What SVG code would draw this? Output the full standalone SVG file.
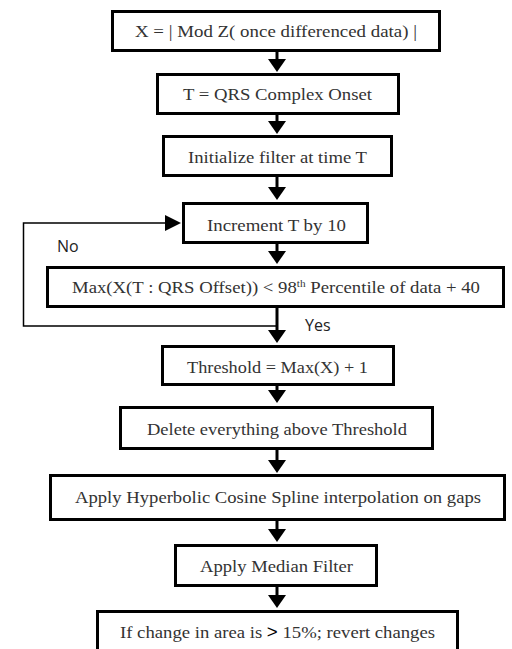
<svg xmlns="http://www.w3.org/2000/svg" width="512" height="649" viewBox="0 0 512 649">
<style>
.box{fill:#fff;stroke:#000;stroke-width:3}
.t{font-family:"Liberation Serif","Times New Roman",serif;font-size:17.5px;fill:#333;text-anchor:middle}
.s{font-family:"Open Sans","Liberation Sans",sans-serif;font-size:16px;fill:#222}
.c{stroke:#000;stroke-width:3;fill:none}
.l{stroke:#000;stroke-width:1.5;fill:none}
</style>
<rect width="512" height="649" fill="#fff"/>
<g id="connectors">
<path class="c" d="M277,51 V59"/><path d="M268,59 L286,59 L277,72 Z"/>
<path class="c" d="M277,114 V121"/><path d="M268,121 L286,121 L277,134 Z"/>
<path class="c" d="M277,176 V187"/><path d="M268,187 L286,187 L277,200 Z"/>
<path class="c" d="M277,243 V251"/><path d="M268,251 L286,251 L277,264 Z"/>
<path class="c" d="M277,307 V330"/><path d="M268,330 L286,330 L277,343 Z"/>
<path class="l" d="M277,326 H23.5 V223 H166"/><path d="M165,215 L181,223 L165,231 Z"/>
<path class="c" d="M277,385 V390"/><path d="M268,390 L286,390 L277,403 Z"/>
<path class="c" d="M277,449 V460"/><path d="M268,460 L286,460 L277,473 Z"/>
<path class="c" d="M277,520 V529"/><path d="M268,529 L286,529 L277,542 Z"/>
<path class="c" d="M277,586 V595"/><path d="M268,595 L286,595 L277,608 Z"/>
<text class="s" x="57" y="252">No</text>
<text class="s" x="305" y="331">Yes</text>
</g>
<g id="n1"><rect class="box" x="112.5" y="11.5" width="327" height="39"/><text class="t" x="276" y="36.5" textLength="282" lengthAdjust="spacingAndGlyphs">X = | Mod Z( once differenced data) |</text></g>
<g id="n2"><rect class="box" x="157.5" y="74.5" width="241" height="39"/><text class="t" x="277.5" y="100" textLength="189" lengthAdjust="spacingAndGlyphs">T = QRS Complex Onset</text></g>
<g id="n3"><rect class="box" x="163.5" y="136.5" width="228" height="39"/><text class="t" x="277.5" y="162.5" textLength="179" lengthAdjust="spacingAndGlyphs">Initialize filter at time T</text></g>
<g id="n4"><rect class="box" x="183.5" y="203.5" width="184" height="39"/><text class="t" x="276.5" y="230.5" textLength="139" lengthAdjust="spacingAndGlyphs">Increment T by 10</text></g>
<g id="n5"><rect class="box" x="47.5" y="267.5" width="456" height="39"/><text class="t" x="276" y="293" textLength="408" lengthAdjust="spacingAndGlyphs">Max(X(T : QRS Offset)) &lt; 98<tspan font-size="10.5" dy="-6.5">th</tspan><tspan dy="6.5"> Percentile of data + 40</tspan></text></g>
<g id="n6"><rect class="box" x="162.5" y="346.5" width="231" height="38"/><text class="t" x="277.5" y="372.5" textLength="181" lengthAdjust="spacingAndGlyphs">Threshold = Max(X) + 1</text></g>
<g id="n7"><rect class="box" x="120.5" y="407.5" width="312" height="41"/><text class="t" x="277" y="435" textLength="260" lengthAdjust="spacingAndGlyphs">Delete everything above Threshold</text></g>
<g id="n8"><rect class="box" x="50.5" y="475.5" width="454" height="44"/><text class="t" x="278" y="503" textLength="406" lengthAdjust="spacingAndGlyphs">Apply Hyperbolic Cosine Spline interpolation on gaps</text></g>
<g id="n9"><rect class="box" x="175.5" y="545.5" width="201" height="40"/><text class="t" x="276.5" y="572" textLength="153" lengthAdjust="spacingAndGlyphs">Apply Median Filter</text></g>
<g id="n10"><rect class="box" x="97.5" y="611.5" width="360" height="45"/><text class="t" x="277.5" y="638" textLength="315" lengthAdjust="spacingAndGlyphs">If change in area is <tspan font-family="Liberation Sans, sans-serif" fill="#000">&gt;</tspan> 15%; revert changes</text></g>
</svg>
